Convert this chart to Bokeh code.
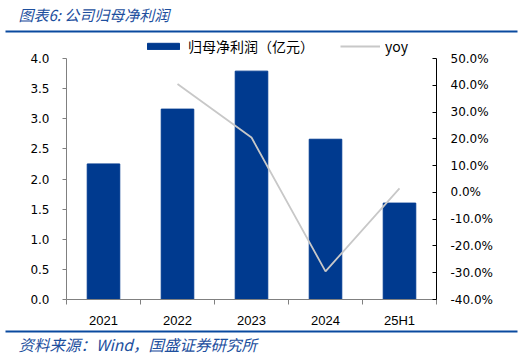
from bokeh.plotting import figure
from bokeh.models import (Range1d, LinearAxis, FixedTicker, NumeralTickFormatter,
                          Legend, LegendItem, ColumnDataSource, Label)
from bokeh.embed import file_html
from bokeh.resources import INLINE

categories = ["2021", "2022", "2023", "2024", "25H1"]
profit = [2.25, 3.16, 3.79, 2.66, 1.60]
yoy_categories = ["2022", "2023", "2024", "25H1"]
yoy = [0.405, 0.205, -0.295, 0.015]
left_ticks = [0, 0.5, 1.0, 1.5, 2.0, 2.5, 3.0, 3.5, 4.0]
right_ticks = [-0.4, -0.3, -0.2, -0.1, 0.0, 0.1, 0.2, 0.3, 0.4, 0.5]
title_text = "图表6:  公司归母净利润"
source_text = "资料来源：Wind，国盛证券研究所"

BAR = "#003a8f"
LINE = "#c8c8c8"
BLUE = "#1d4f9e"
RULE = "#0a4a9f"
W, H = 526, 355

# pixel geometry (canvas px, y downward)
FL, FR, FT, FB = 2, 524, 2, 353           # frame
PL, PR, PT, PB = 66, 436, 58, 299         # plotting area bounded by the axes
LMIN, LMAX = 0.0, 4.0
RMIN, RMAX = -0.4, 0.5
n = len(categories)
XMIN, XMAX = -0.5, n - 0.5

kx = (XMAX - XMIN) / (PR - PL)
ky = (LMAX - LMIN) / (PB - PT)
kr = (RMAX - RMIN) / (PB - PT)
x_range = Range1d(XMIN - (PL - FL) * kx, XMAX + (FR - PR) * kx)
y_range = Range1d(LMIN - (FB - PB) * ky, LMAX + (PT - FT) * ky)
r_range = Range1d(RMIN - (FB - PB) * kr, RMAX + (PT - FT) * kr)


def px_to_x(px):
    return XMIN + (px - PL) * kx


def px_to_y(py):
    return LMAX + (PT - py) * ky


p = figure(width=W, height=H, output_backend="svg", toolbar_location=None,
           x_range=x_range, y_range=y_range, x_axis_type=None, y_axis_type=None,
           min_border_left=FL, min_border_right=W - FR,
           min_border_top=FT, min_border_bottom=H - FB)
p.title = None
p.background_fill_color = "white"
p.border_fill_color = "white"
p.outline_line_color = None
p.grid.visible = False
p.extra_y_ranges = {"yoy": r_range}

xs = list(range(n))
yoy_x = [categories.index(c) for c in yoy_categories]
src = ColumnDataSource(dict(x=xs, y=profit))
bars = p.vbar(x="x", top="y", width=0.44, source=src, fill_color=BAR, line_color=BAR)
line = p.line(yoy_x, yoy, y_range_name="yoy", line_color=LINE, line_width=1.8)

# decorative rules under the title and above the source
p.quad(left=[px_to_x(5)] * 2, right=[px_to_x(517)] * 2,
       top=[px_to_y(30), px_to_y(330)], bottom=[px_to_y(32), px_to_y(332)],
       fill_color=RULE, line_color=None)

# x axis
xa = LinearAxis(fixed_location=LMIN, bounds=(XMIN, XMAX),
                ticker=FixedTicker(ticks=xs, minor_ticks=[i - 0.5 for i in range(n + 1)]))
xa.major_label_overrides = {i: c for i, c in enumerate(categories)}
xa.major_tick_line_color = None
xa.major_tick_in = 0
xa.major_tick_out = 0
xa.minor_tick_line_color = "#808080"
xa.minor_tick_in = 0
xa.minor_tick_out = 5
xa.axis_line_color = "#808080"
xa.major_label_text_font = "Liberation Sans"
xa.major_label_text_font_size = "13px"
xa.major_label_text_color = "#000000"
xa.major_label_standoff = 8
p.add_layout(xa, "below")

# left axis
ya = LinearAxis(fixed_location=XMIN, bounds=(LMIN, LMAX), ticker=FixedTicker(ticks=left_ticks),
                formatter=NumeralTickFormatter(format="0.0"))
ya.minor_tick_line_color = None
ya.major_tick_in = 0
ya.major_tick_out = 4
ya.axis_line_color = "#808080"
ya.major_tick_line_color = "#808080"
ya.major_label_text_font = "DejaVu Sans"
ya.major_label_text_font_size = "12px"
ya.major_label_text_color = "#000000"
ya.major_label_standoff = 13
p.add_layout(ya, "left")

# right axis
ra = LinearAxis(y_range_name="yoy", fixed_location=XMAX, bounds=(RMIN, RMAX),
                ticker=FixedTicker(ticks=right_ticks), formatter=NumeralTickFormatter(format="0.0%"))
ra.minor_tick_line_color = None
ra.major_tick_in = 4
ra.major_tick_out = 0
ra.axis_line_color = "#000000"
ra.major_tick_line_color = "#000000"
ra.major_label_text_font = "DejaVu Sans"
ra.major_label_text_font_size = "12px"
ra.major_label_text_color = "#000000"
ra.major_label_standoff = 14
p.add_layout(ra, "right")

# legend
legend = Legend(items=[LegendItem(label="归母净利润（亿元）", renderers=[bars]),
                       LegendItem(label="yoy", renderers=[line])],
                orientation="horizontal", location=(143 - FL, FB - 56),
                glyph_width=40, glyph_height=8, label_standoff=5, spacing=26,
                padding=0, margin=0, border_line_color=None, background_fill_alpha=0,
                label_text_font="Noto Sans CJK SC", label_text_font_size="14px",
                label_text_color="#000000", label_height=14)
p.add_layout(legend, "center")

# title and source
p.add_layout(Label(x=px_to_x(18), y=px_to_y(14), text=title_text,
                   text_font="Noto Sans CJK SC", text_font_size="15px", text_font_style="italic",
                   text_color=BLUE, text_baseline="middle", text_align="left"))
p.add_layout(Label(x=px_to_x(18), y=px_to_y(343), text=source_text,
                   text_font="Noto Sans CJK SC", text_font_size="15.5px", text_font_style="italic",
                   text_color=BLUE, text_baseline="middle", text_align="left"))

open("out.html", "w").write(file_html(p, INLINE))
